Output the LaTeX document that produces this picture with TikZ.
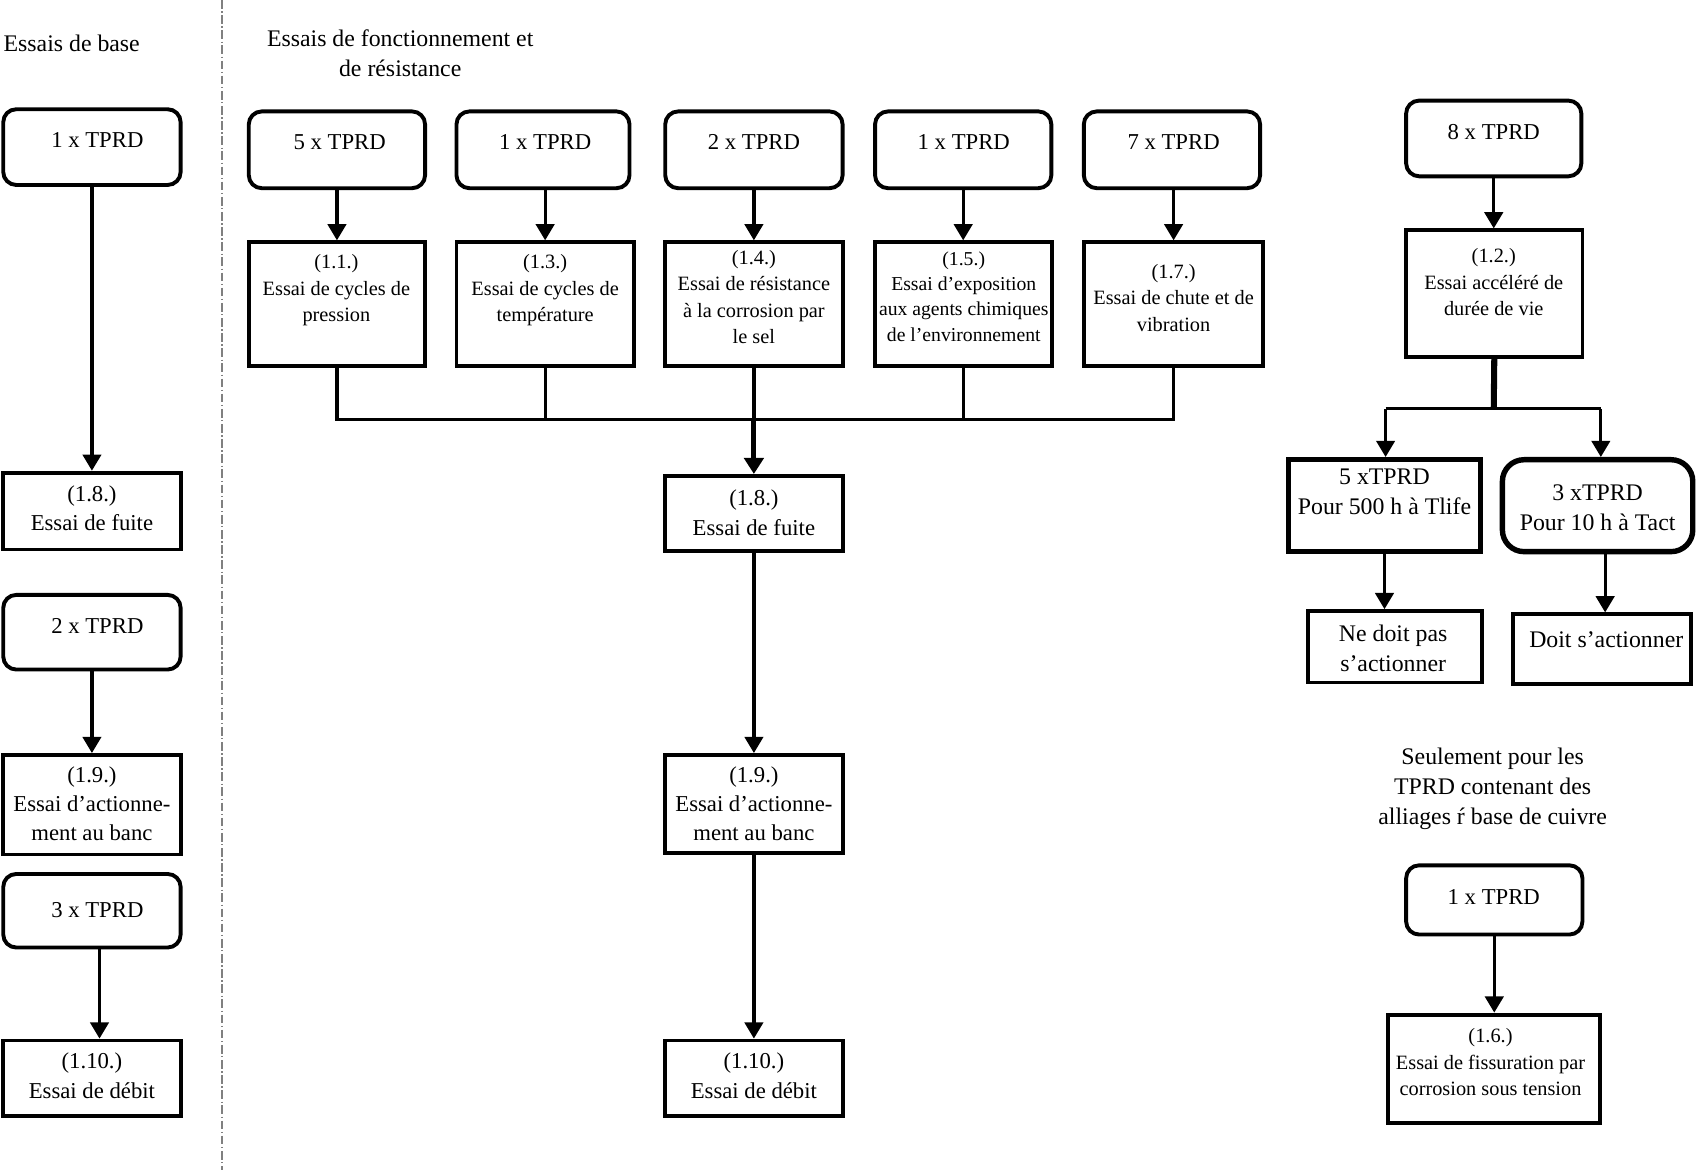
\documentclass[tikz,border=0pt]{standalone}
\usepackage{fontspec}
\setmainfont{Liberation Serif}
\usetikzlibrary{arrows.meta}
\begin{document}
\begin{tikzpicture}[x=0.5pt,y=-0.5pt,
  rbox/.style={draw, line width=1.8pt, rounded corners=6pt, inner sep=0pt},
  sbox/.style={draw, line width=1.8pt, inner sep=0pt},
  txt/.style={inner sep=0pt, align=center},
  fA/.style={font=\fontsize{10.5}{13.5}\selectfont},
  fB/.style={font=\fontsize{9.4}{12.2}\selectfont},
  fC/.style={font=\fontsize{11}{13.8}\selectfont},
  arr/.style={line width=1.5pt, -{Triangle[width=8.5pt,length=7.5pt]}},
  ln/.style={line width=1.5pt},
]
\useasboundingbox (0,0) rectangle (1568,1082);

% separator
\coordinate (dtop) at (205,0);
\coordinate (dbot) at (205,1082);
\draw[gray, line width=1pt, dash pattern=on 4pt off 1.2pt on 0.6pt off 1.2pt] (dtop) -- (dbot);

% headers
\node[txt, anchor=west, fC] (h1) at (3,40) {Essais de base};
\node[txt, fC] (h2) at (370,49) {Essais de fonctionnement et\\de résistance};

% left column
\node[rbox, minimum width=82pt, minimum height=35pt] (a1) at (85,136) {};
\node[txt, fA] (a1t) at (90,129) {1 x TPRD};
\node[sbox, minimum width=82pt, minimum height=35.5pt] (b18L) at (85,472.5) {};
\node[txt, fA] (b18Lt) at (85,469.5) {(1.8.)\\Essai de fuite};
\node[rbox, minimum width=82pt, minimum height=34.5pt] (a2) at (85,584.5) {};
\node[txt, fA] (a2t) at (90,579) {2 x TPRD};
\node[sbox, minimum width=82pt, minimum height=46pt] (b19L) at (85,744) {};
\node[txt, fA] (b19Lt) at (85,743) {(1.9.)\\Essai d’actionne-\\ment au banc};
\node[rbox, minimum width=82pt, minimum height=34pt] (a3) at (85,842) {};
\node[txt, fA] (a3t) at (90,841) {3 x TPRD};
\node[sbox, minimum width=82pt, minimum height=35pt] (b110L) at (85,997) {};
\node[txt, fA] (b110Lt) at (85,994.5) {(1.10.)\\Essai de débit};

\draw[arr] (a1.south) -- (b18L.north);
\draw[arr] (a2.south) -- (b19L.north);
\draw[arr] ([xshift=3.5pt]a3.south) -- ([xshift=3.5pt]b110L.north);

% middle top row
\node[rbox, minimum width=81.5pt, minimum height=35.5pt] (t5) at (311.5,138.5) {};
\node[txt, fA] (t5t) at (314,131) {5 x TPRD};
\node[rbox, minimum width=80pt, minimum height=35.5pt] (t1a) at (502,138.5) {};
\node[txt, fA] (t1at) at (504,131) {1 x TPRD};
\node[rbox, minimum width=82pt, minimum height=35.5pt] (t2) at (697,138.5) {};
\node[txt, fA] (t2t) at (697,131) {2 x TPRD};
\node[rbox, minimum width=81.5pt, minimum height=35.5pt] (t1b) at (890.5,138.5) {};
\node[txt, fA] (t1bt) at (891,131) {1 x TPRD};
\node[rbox, minimum width=81.5pt, minimum height=35.5pt] (t7) at (1083.5,138.5) {};
\node[txt, fA] (t7t) at (1085,131) {7 x TPRD};

% middle lower row
\node[sbox, minimum width=81.5pt, minimum height=57pt] (c11) at (311.5,281) {};
\node[txt, fB] (c11t) at (311,268.5) {(1.1.)\\Essai de cycles de\\pression};
\node[sbox, minimum width=82pt, minimum height=57pt] (c13) at (504,281) {};
\node[txt, fB] (c13t) at (504,268.5) {(1.3.)\\Essai de cycles de\\température};
\node[sbox, minimum width=82pt, minimum height=57pt] (c14) at (697,281) {};
\node[txt, fB] (c14t) at (697,274.5) {(1.4.)\\Essai de résistance\\à la corrosion par\\le sel};
\node[sbox, minimum width=82pt, minimum height=57pt] (c15) at (891,281) {};
\node[txt, font=\fontsize{9.1}{11.7}\selectfont] (c15t) at (891,274) {(1.5.)\\Essai d’exposition\\aux agents chimiques\\de l’environnement};
\node[sbox, minimum width=83pt, minimum height=57pt] (c17) at (1085,281) {};
\node[txt, fB] (c17t) at (1085,275.5) {(1.7.)\\Essai de chute et de\\vibration};

\draw[arr] (t5.south) -- (t5.south |- c11.north);
\draw[arr] (t1a.south -| c13.north) -- (c13.north);
\draw[arr] (t2.south) -- (c14.north);
\draw[arr] (t1b.south) -- (t1b.south |- c15.north);
\draw[arr] (t7.south -| c17.north) -- (c17.north);

% collector bar
\coordinate (bar) at (697,388);
\draw[ln] (c11.south) -- (c11.south |- bar) -- (c17.south |- bar) -- (c17.south);
\draw[ln] (c13.south) -- (c13.south |- bar);
\draw[ln] (c14.south) -- (bar);
\draw[ln] (c15.south) -- (c15.south |- bar);

% middle column
\node[sbox, minimum width=82pt, minimum height=34.5pt] (m18) at (697,474.5) {};
\node[txt, fA] (m18t) at (697,474) {(1.8.)\\Essai de fuite};
\node[sbox, minimum width=82pt, minimum height=45.5pt] (m19) at (697,743.5) {};
\node[txt, fA] (m19t) at (697,743) {(1.9.)\\Essai d’actionne-\\ment au banc};
\node[sbox, minimum width=82pt, minimum height=35pt] (m110) at (697,997) {};
\node[txt, fA] (m110t) at (697,994.5) {(1.10.)\\Essai de débit};

\draw[line width=2.3pt, -{Triangle[width=9pt,length=7.5pt]}] (bar) -- (m18.north);
\draw[arr] (m18.south) -- (m19.north);
\draw[arr] (m19.south) -- (m110.north);

% right column
\node[rbox, minimum width=81pt, minimum height=35pt] (r8) at (1381,128) {};
\node[txt, fA] (r8t) at (1381,122) {8 x TPRD};
\node[sbox, minimum width=81.5pt, minimum height=58.5pt] (r12) at (1381.5,271.5) {};
\node[txt, fB] (r12t) at (1381,261) {(1.2.)\\Essai accéléré de\\durée de vie};
\draw[arr] (r8.south) -- (r8.south |- r12.north);

\coordinate (jc) at (1381,378);
\coordinate (jl) at (1281,378);
\coordinate (jr) at (1480,378);

\node[sbox, line width=2.5pt, minimum width=89pt, minimum height=42.5pt] (r5) at (1280,467.5) {};
\node[txt, fC] (r5t) at (1280,455) {5 xTPRD\\Pour 500 h à Tlife};
\node[draw, line width=2.5pt, rounded corners=10pt, inner sep=0pt, minimum width=88pt, minimum height=42.5pt] (r3) at (1477,467.5) {};
\node[txt, fC] (r3t) at (1477,469.5) {3 xTPRD\\Pour 10 h à Tact};

\draw[line width=2.8pt] (r12.south) -- (jc);
\draw[ln] (jl) -- (jr);
\draw[arr] (jl) -- (jl |- r5.north);
\draw[arr] (jr) -- (jr |- r3.north);

\node[sbox, minimum width=80.5pt, minimum height=33pt] (rne) at (1289.5,598) {};
\node[txt, fC] (rnet) at (1288,599.5) {Ne doit pas\\s’actionner};
\node[sbox, minimum width=82pt, minimum height=32pt] (rdo) at (1481,600) {};
\node[txt, fC] (rdot) at (1485,591) {Doit s’actionner};

\draw[arr] (r5.south) -- (r5.south |- rne.north);
\draw[arr] ([xshift=3.5pt]r3.south) -- ([xshift=3.5pt]r3.south |- rdo.north);

\node[txt, fC] (seul) at (1380,729) {Seulement pour les\\TPRD contenant des\\alliages ŕ base de cuivre};

\node[rbox, minimum width=81.5pt, minimum height=32pt] (r1) at (1381.5,832) {};
\node[txt, fA] (r1t) at (1381,829) {1 x TPRD};
\node[sbox, minimum width=98pt, minimum height=50pt] (r16) at (1381,988) {};
\node[txt, fB] (r16t) at (1378,982) {(1.6.)\\Essai de fissuration par\\corrosion sous tension};
\draw[arr] (r1.south) -- (r1.south |- r16.north);
\end{tikzpicture}
\end{document}
